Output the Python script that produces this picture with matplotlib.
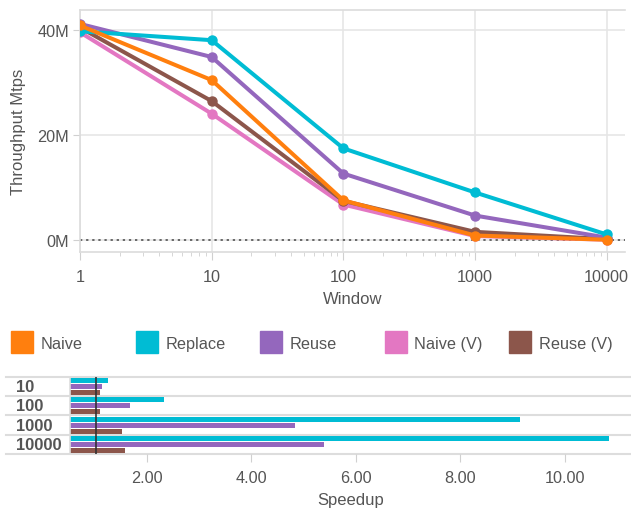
import numpy as np
import matplotlib
matplotlib.use('Agg')
import matplotlib.pyplot as plt
import matplotlib.ticker as mticker
from matplotlib.patches import Rectangle
from matplotlib.transforms import blended_transform_factory

plt.rcParams['font.family'] = ['Liberation Sans', 'DejaVu Sans']

# throughput (millions of tuples / s) per window size
windows = [1, 10, 100, 1000, 10000]
naive = [40.8, 30.4, 7.5, 0.8, 0.0]
replace = [39.7, 38.0, 17.4, 9.0, 1.0]
reuse = [41.1, 34.8, 12.6, 4.6, 0.4]
naive_v = [39.5, 24.0, 6.7, 0.7, 0.0]
reuse_v = [40.4, 26.4, 7.4, 1.5, 0.1]

# speedups shown in the lower chart
speed_windows = ['10', '100', '1000', '10000']
replace_speedup = [1.26, 2.33, 9.13, 10.84]
reuse_speedup = [1.14, 1.68, 4.84, 5.39]
reuse_v_speedup = [1.10, 1.10, 1.53, 1.59]

legend_names = ['Naive', 'Replace', 'Reuse', 'Naive (V)', 'Reuse (V)']
colors = {'Naive': '#ff7f0e', 'Replace': '#00bcd4', 'Reuse': '#9467bd',
          'Naive (V)': '#e377c2', 'Reuse (V)': '#8c564b'}

text_c = '#555555'
grid_c = '#e6e6e6'
W, H = 631, 510

fig = plt.figure(figsize=(W / 100, H / 100), dpi=100)

# ---------- top: throughput line chart ----------
ax = fig.add_axes([80 / W, 1 - 253 / H, 545 / W, 242 / H])
ax.set_xscale('log')
series = [('Naive (V)', naive_v), ('Reuse (V)', reuse_v), ('Reuse', reuse),
          ('Replace', replace), ('Naive', naive)]
for name, vals in series:
    ax.plot(windows, vals, color=colors[name], lw=2.9, marker='o', ms=6.5,
            solid_capstyle='round', zorder=3)
ax.axhline(0, color='#444444', lw=1.1, ls=(0, (1.5, 2.5)), zorder=2)

ax.set_xlim(1, 13770)
ax.set_ylim(-2.34, 43.75)
ax.set_yticks([0, 20, 40])
ax.yaxis.set_major_formatter(mticker.FuncFormatter(lambda v, p: f'{v:.0f}M'))
ax.xaxis.set_major_locator(mticker.FixedLocator(windows))
ax.xaxis.set_major_formatter(mticker.FuncFormatter(lambda v, p: f'{v:.0f}'))
ax.xaxis.set_minor_locator(mticker.LogLocator(subs=np.arange(2, 10)))
ax.xaxis.set_minor_formatter(mticker.NullFormatter())
ax.grid(True, which='major', color=grid_c, lw=1.2)
ax.set_axisbelow(True)
ax.tick_params(axis='x', which='major', length=6, color='#d0d0d0', labelsize=11.7,
               labelcolor=text_c, pad=6)
ax.tick_params(axis='x', which='minor', length=3, color='#d0d0d0')
ax.tick_params(axis='y', length=5, color='#d0d0d0', labelsize=11.7, labelcolor=text_c, pad=3)
for s in ['top', 'left', 'bottom']:
    ax.spines[s].set_color('#dcdcdc')
    ax.spines[s].set_linewidth(1.2)
ax.spines['right'].set_visible(False)
ax.set_xlabel('Window', fontsize=12, color=text_c, labelpad=5)
ax.set_ylabel('Throughput Mtps', fontsize=12, color=text_c, labelpad=8)

# ---------- legend ----------
for i, name in enumerate(legend_names):
    x0 = 11 + i * 124.5
    fig.patches.append(Rectangle((x0 / W, 1 - 354 / H), 22 / W, 22 / H,
                                 transform=fig.transFigure, color=colors[name]))
    fig.text((x0 + 30) / W, 1 - 344.5 / H, name, fontsize=11.7, color=text_c,
             va='center', ha='left')

# ---------- bottom: speedup bars ----------
bx = fig.add_axes([70 / W, 1 - 455.3 / H, 561 / W, 77.8 / H])
ypos = np.arange(len(speed_windows))
bh = 0.26
bx.barh(ypos - 0.31, replace_speedup, height=bh, color=colors['Replace'], zorder=2)
bx.barh(ypos, reuse_speedup, height=bh, color=colors['Reuse'], zorder=2)
bx.barh(ypos + 0.31, reuse_v_speedup, height=bh, color=colors['Reuse (V)'], zorder=2)
bx.axvline(1.03, color='#333333', lw=1.4, alpha=0.85, zorder=3)

bx.set_xlim(0.534, 11.26)
bx.set_ylim(len(speed_windows) - 0.5, -0.5)
for b in np.arange(-0.5, len(speed_windows) + 0.5, 1.0):
    bx.axhline(b, xmin=(6 - 70) / 561, xmax=1, color='#dddddd', lw=1.5,
               clip_on=False, zorder=1)
bx.set_yticks([])
bx.set_xticks([2, 4, 6, 8, 10])
bx.xaxis.set_major_formatter(mticker.FuncFormatter(lambda v, p: f'{v:.2f}'))
bx.tick_params(axis='x', length=6, color='#d0d0d0', labelsize=11.7, labelcolor=text_c, pad=5)
for s in ['top', 'right']:
    bx.spines[s].set_visible(False)
bx.spines['bottom'].set_visible(False)
bx.spines['left'].set_color('#dddddd')
bx.spines['left'].set_linewidth(1.2)
bx.set_xlabel('Speedup', fontsize=12, color=text_c)
bx.xaxis.set_label_coords(0.5, (455.3 - 500) / 77.8)
bx.xaxis.label.set_va('center')

lab_tr = blended_transform_factory(fig.transFigure, bx.transData)
for y, lab in zip(ypos, speed_windows):
    bx.text(16 / W, y, lab, transform=lab_tr, fontsize=11.9, fontweight='bold',
            color=text_c, ha='left', va='center')

fig.savefig('out.png', dpi=100)
